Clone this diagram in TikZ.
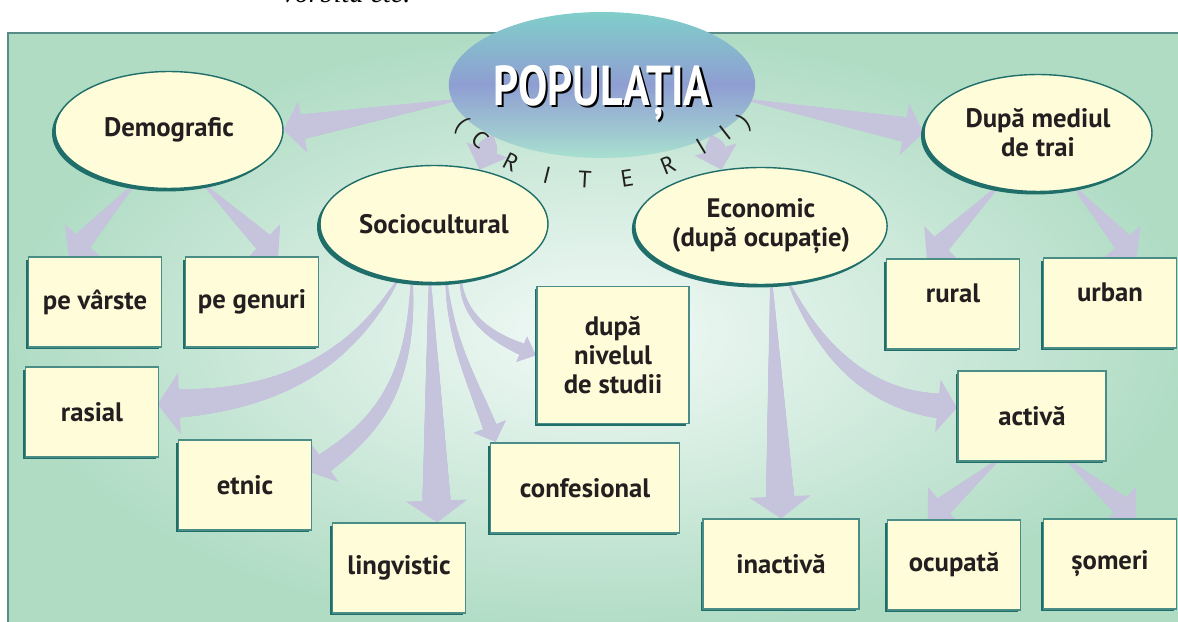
\documentclass[tikz,border=0pt]{standalone}
\usepackage{fontspec}
\setmainfont{PT Sans}
\newfontfamily\bookserif{Liberation Serif}
\usetikzlibrary{shapes.geometric, shadows, decorations.markings}
\definecolor{cream}{RGB}{255,252,217}
\definecolor{tealedge}{RGB}{31,110,106}
\definecolor{cardedge}{RGB}{74,140,134}
\definecolor{flowcol}{RGB}{198,196,221}
\definecolor{bgin}{RGB}{243,250,248}
\definecolor{bgout}{RGB}{176,220,196}
\definecolor{framecol}{RGB}{90,140,135}
\definecolor{ink}{RGB}{35,31,32}
\definecolor{rootteal}{RGB}{128,206,202}
\definecolor{rootblue}{RGB}{143,158,210}
\definecolor{rootmint}{RGB}{168,224,208}
\newcommand\cardfont{\fontsize{15.2}{16.5}\selectfont\bfseries}
\newcommand\rootword[1]{\scalebox{0.78}[1]{\rlap{\hspace{1.6pt}\raisebox{-1.6pt}{\textcolor{black}{#1}}}#1}}
\pgfdeclarelayer{back}
\pgfdeclarelayer{flows}
\pgfsetlayers{back,flows,main}

\begin{document}
\begin{tikzpicture}[x=0.02cm, y=0.02cm,
    every node/.style={text=ink},
    rootbubble/.style={ellipse, minimum width=5.64cm, minimum height=2.92cm, inner sep=0pt, text depth=0pt, top color=rootteal, bottom color=rootmint, middle color=rootblue, text=white, font=\fontsize{32}{32}\selectfont\bfseries},
    bubble/.style={ellipse, draw=tealedge, line width=0.8pt, fill=cream, minimum width=4.56cm, minimum height=2.34cm, inner sep=0pt, align=center, font=\cardfont, drop shadow={shadow xshift=-0.06cm, shadow yshift=-0.06cm, fill=tealedge, opacity=1}},
    card/.style={rectangle, draw=cardedge, line width=0.6pt, fill=cream, minimum width=2.66cm, minimum height=1.8cm, inner sep=2pt, align=center, font=\cardfont, drop shadow={shadow xshift=-0.05cm, shadow yshift=-0.05cm, fill=tealedge, opacity=1}},
    critletter/.style={inner sep=0pt, font=\fontsize{13.5}{13.5}\selectfont},
    flowarrow/.style n args={3}{decoration={markings,
        mark=between positions 0pt and -#3 step 0.5pt with {%
          \pgfmathsetmacro\flowrad{0.8+(#1-0.8)*\pgfkeysvalueof{/pgf/decoration/mark info/distance from start}/(\pgfdecoratedpathlength-#3)}%
          \fill[flowcol] (0pt,0pt) circle (\flowrad pt);},
        mark=at position -#3 with {\fill[flowcol] (0pt,-#2) -- (#3,0pt) -- (0pt,#2) -- cycle;}},
      postaction=decorate},
    wideflow/.style={flowarrow={8pt}{17.5pt}{12.5pt}},
    midflow/.style={flowarrow={7pt}{15pt}{11pt}},
    shortflow/.style={flowarrow={6pt}{12.5pt}{12pt}},
    wedgeflow/.style={flowarrow={5.5pt}{14pt}{12pt}},
    thinflow/.style={flowarrow={4pt}{10pt}{9.5pt}},
    tinyflow/.style={flowarrow={3.4pt}{8pt}{9pt}}]
    \useasboundingbox (0,0) rectangle (1178,622);

    % Frame
    \begin{pgfonlayer}{back}
        \shade[inner color=bgin, outer color=bgout] (8,-12) rectangle (1192,589);
        \draw[framecol, line width=1.1pt] (8,-12) -- (8,589) -- (1192,589);
    \end{pgfonlayer}
    \node[anchor=base west, inner sep=0pt, text=black, font=\bookserif\itshape\fontsize{16}{16}\selectfont] (prevline) at (282,619) {vorbită etc.};

    % Root
    \node[rootbubble] (root) at (602,537) {\rootword{POPULAȚIA}};

    % Criteria
    \node[bubble] (demo) at (169,492) {Demografic};
    \node[bubble] (socio) at (434,398) {Sociocultural};
    \node[bubble] (econ) at (761,396) {Economic\\(după ocupație)};
    \node[bubble] (mediu) at (1038,489) {După mediul\\de trai};

    % Categories
    \node[card] (varste) at (95,320) {pe vârste};
    \node[card] (genuri) at (252,320) {pe genuri};
    \node[card] (rasial) at (92,210) {rasial};
    \node[card] (etnic) at (245,137) {etnic};
    \node[card] (lingv) at (399,54) {lingvistic};
    \node[card, minimum width=3.04cm, minimum height=2.74cm] (studii) at (613,267) {după\\nivelul\\de studii};
    \node[card, minimum width=3.78cm] (confes) at (585,134) {confesional};
    \node[card, minimum width=3.12cm] (inactiva) at (781,58) {inactivă};
    \node[card, text depth=12.5pt] (rural) at (953,318) {rural};
    \node[card, text depth=12.5pt] (urban) at (1110,319) {urban};
    \node[card, minimum width=2.96cm] (activa) at (1032,206) {activă};
    \node[card] (ocupata) at (954,57) {ocupată};
    \node[card] (someri) at (1110,58) {șomeri};

    % Arc label
    \foreach \ch/\cx/\cy/\rot [count=\i] in {{(}/461/497/-45, C/480/483/-40, R/511/460/-27, I/547/447/-14, T/585/442/-3, E/627/444/9, R/668/457/22, I/701/475/31, I/725/489/38, {)}/745/500/42}
        \node[critletter, rotate=\rot] (crit\i) at (\cx,\cy) {\ch};

    % Arrows
    \begin{pgfonlayer}{flows}
        \path[midflow] (root.186) -- (demo.east);
        \path[midflow] (root.-6) -- (mediu.west);
        \path[shortflow] (root.205) -- (socio.50);
        \path[shortflow] (root.-25) -- (econ.125);
        \path[wedgeflow] (demo.237) -- (varste.120);
        \path[wedgeflow] (demo.303) -- (genuri.60);
        \path[wideflow] (socio.237) to[out=240, in=0] (rasial.7);
        \path[flowarrow={5.7pt}{13.5pt}{9.6pt}] (socio.249) .. controls +(0,-120) and +(50,35) .. (etnic.11);
        \path[wideflow] (socio.266) -- (lingv.50);
        \path[thinflow] (socio.282) to[out=275, in=110] (confes.153);
        \path[tinyflow] (socio.295) to[out=275, in=160] (studii.west);
        \path[wideflow] (econ.280) -- (inactiva.north);
        \path[midflow] (econ.296) to[out=295, in=180] (activa.173);
        \path[wedgeflow] (mediu.233) -- (rural.120);
        \path[wedgeflow] (mediu.304) -- (urban.60);
        \path[wedgeflow] (activa.232) -- (ocupata.120);
        \path[wedgeflow] (activa.309) -- (someri.60);
    \end{pgfonlayer}
\end{tikzpicture}
\end{document}
